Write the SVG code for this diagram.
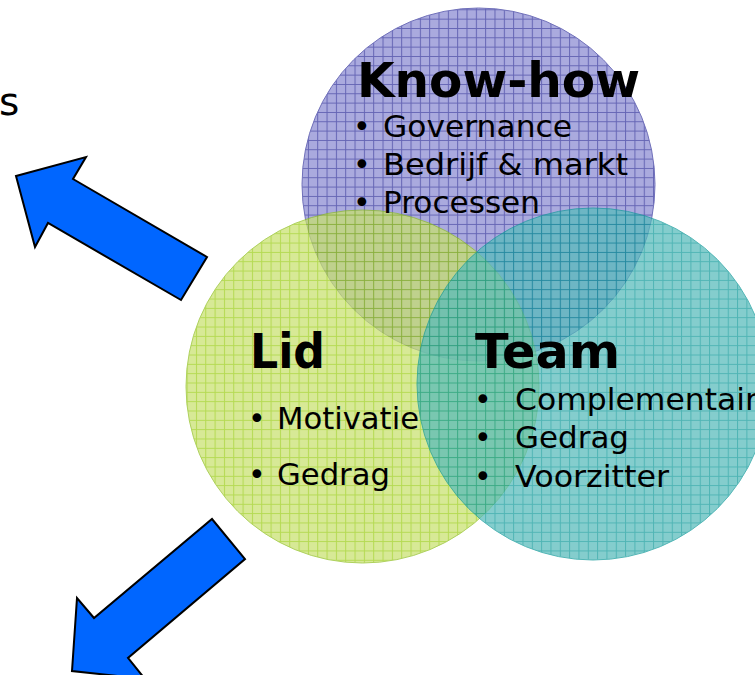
<svg xmlns="http://www.w3.org/2000/svg" width="755" height="675" viewBox="0 0 755 675">
<style>
  text { font-family: "DejaVu Sans", Verdana, sans-serif; fill: #000; }
  .title { font-weight: bold; font-size: 48px; }
  .item { font-size: 30px; }
  .arrow { fill: #0066ff; stroke: #000; stroke-width: 2; stroke-linejoin: miter; }
  .circ { opacity: 0.72; }
</style>
<defs>
  <pattern id="gridPurple" patternUnits="userSpaceOnUse" width="9.33" height="9.33">
    <rect width="9.33" height="9.33" fill="#8a8ad2"/>
    <path d="M0 0.5H9.33M0.5 0V9.33" stroke="#2a2a98" stroke-width="1"/>
  </pattern>
  <pattern id="gridGreen" patternUnits="userSpaceOnUse" width="9.33" height="9.33">
    <rect width="9.33" height="9.33" fill="#c8e16e"/>
    <path d="M0 0.5H9.33M0.5 0V9.33" stroke="#98cc10" stroke-width="1"/>
  </pattern>
  <pattern id="gridTeal" patternUnits="userSpaceOnUse" width="9.33" height="9.33">
    <rect width="9.33" height="9.33" fill="#56bbbb"/>
    <path d="M0 0.5H9.33M0.5 0V9.33" stroke="#0c9898" stroke-width="1"/>
  </pattern>
</defs>
<rect width="755" height="675" fill="#fff"/>

<text x="-1" y="115" style="font-size:39px">s</text>

<g id="knowhow">
  <circle class="circ" cx="478.5" cy="184.5" r="176.5" fill="url(#gridPurple)" stroke="#3a3aa0" stroke-width="1"/>
</g>
<g id="lid">
  <circle class="circ" cx="362.5" cy="386.5" r="176.5" fill="url(#gridGreen)" stroke="#90c020" stroke-width="1"/>
</g>
<g id="team">
  <circle class="circ" cx="593" cy="384" r="176" fill="url(#gridTeal)" stroke="#109a9a" stroke-width="1"/>
</g>

<g id="connectors">
  <polygon class="arrow" points="16,176 86,157 73,179 207,257 181,300 48,223 35,247"/>
  <polygon class="arrow" points="72,671 77,598 94,618 212,519 245,559 128,658 145,679"/>
</g>

<g id="knowhow-label">
  <text class="title" x="357" y="97" textLength="283" lengthAdjust="spacingAndGlyphs">Know-how</text>
  <text class="item" x="353" y="137">•</text><text class="item" x="383" y="137" textLength="189" lengthAdjust="spacingAndGlyphs">Governance</text>
  <text class="item" x="353" y="175">•</text><text class="item" x="383" y="175" textLength="245" lengthAdjust="spacingAndGlyphs">Bedrijf &amp; markt</text>
  <text class="item" x="353" y="213">•</text><text class="item" x="383" y="213" textLength="157" lengthAdjust="spacingAndGlyphs">Processen</text>
</g>
<g id="lid-label">
  <text class="title" x="250" y="368" textLength="75" lengthAdjust="spacingAndGlyphs">Lid</text>
  <text class="item" x="248" y="429">•</text><text class="item" x="277" y="429" textLength="142" lengthAdjust="spacingAndGlyphs">Motivatie</text>
  <text class="item" x="248" y="485">•</text><text class="item" x="277" y="485" textLength="113" lengthAdjust="spacingAndGlyphs">Gedrag</text>
</g>
<g id="team-label">
  <text class="title" x="475" y="368" textLength="145" lengthAdjust="spacingAndGlyphs">Team</text>
  <text class="item" x="474" y="410">•</text><text class="item" x="515" y="410" textLength="243" lengthAdjust="spacingAndGlyphs">Complementair</text>
  <text class="item" x="474" y="448">•</text><text class="item" x="515" y="448" textLength="114" lengthAdjust="spacingAndGlyphs">Gedrag</text>
  <text class="item" x="474" y="487">•</text><text class="item" x="515" y="487" textLength="154" lengthAdjust="spacingAndGlyphs">Voorzitter</text>
</g>
</svg>
